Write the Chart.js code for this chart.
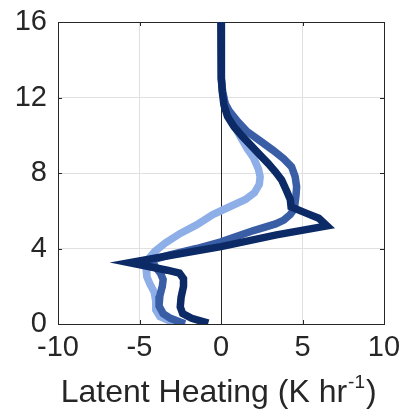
<!DOCTYPE html>
<html><head><meta charset="utf-8">
<script src="https://cdn.jsdelivr.net/npm/chart.js@4"></script>
<style>html,body{margin:0;padding:0;background:#fff}#wrap{width:400px;height:410px}</style>
</head><body><div id="wrap"><canvas id="c" width="400" height="410"></canvas></div>
<script>
// ---- data ----
const xTicks = [-10, -5, 0, 5, 10];
const yTicks = [0, 4, 8, 12, 16];

const lightX = [0.0, 0.0, 0.03, 0.1, 0.3, 0.7, 1.2, 1.6, 2.0, 2.3, 2.4, 2.35, 2.05, 1.5, 0.5, -0.5, -1.5, -2.5, -3.4, -4.05, -4.45, -4.6, -4.55, -4.35, -4.1, -4.0, -4.0, -3.75, -3.2, -2.4];
const lightY = [16, 14, 13, 12.3, 11.5, 10.7, 9.9, 9.3, 8.8, 8.2, 7.8, 7.4, 6.95, 6.6, 6.2, 5.8, 5.25, 4.8, 4.3, 3.85, 3.45, 3.0, 2.5, 2.1, 1.7, 1.2, 0.75, 0.4, 0.18, 0.05];

const mediumX = [0.0, 0.0, 0.02, 0.05, 0.1, 0.25, 0.5, 1.0, 1.6, 2.4, 3.2, 3.85, 4.33, 4.55, 4.64, 4.6, 4.5, 4.25, 3.85, 3.35, 2.0, 0.0, -1.5, -3.2, -4.25, -4.0, -3.72, -3.55, -3.6, -3.75, -3.8, -3.55, -3.1, -2.45];
const mediumY = [16, 15, 14, 13, 12.3, 11.7, 11.3, 10.75, 10.2, 9.7, 9.2, 8.75, 8.33, 7.8, 7.27, 6.8, 6.1, 5.8, 5.5, 5.3, 4.95, 4.35, 4.0, 3.65, 3.38, 3.0, 2.7, 2.35, 2.0, 1.5, 0.95, 0.55, 0.3, 0.08];

const darkX = [0.0, 0.0, 0.02, 0.04, 0.08, 0.18, 0.4, 0.8, 1.3, 1.85, 2.4, 2.9, 3.35, 3.72, 4.0, 4.25, 4.3, 5.26, 6.0, 6.5, 3.4, 0.0, -2.8, -5.6, -3.3, -2.55, -2.3, -2.3, -2.45, -2.5, -2.35, -1.8, -1.0];
const darkY = [16, 15, 14, 13, 12.3, 11.6, 11.0, 10.45, 9.95, 9.45, 8.95, 8.5, 8.05, 7.63, 7.1, 6.6, 6.2, 5.86, 5.6, 5.2, 4.72, 4.1, 3.68, 3.25, 2.85, 2.7, 2.4, 2.0, 1.4, 0.9, 0.55, 0.3, 0.1];

const titleMain = 'Latent Heating (K hr';
const titleSup = '-1';
const titleEnd = ')';

// ---- styling ----
const FONT = '"Liberation Sans", Arial, Helvetica, sans-serif';
const TEXT = '#262626';
const zip = (xs, ys) => xs.map((x, i) => ({x, y: ys[i]}));

const boxPlugin = {
  id: 'box',
  beforeDatasetsDraw(chart) {
    const {ctx, chartArea: a, scales: {x, y}} = chart;
    ctx.save();
    ctx.strokeStyle = TEXT;
    ctx.lineWidth = 1;
    const r = v => Math.round(v) + 0.5;
    const x0 = r(x.getPixelForValue(0));
    ctx.beginPath(); ctx.moveTo(x0, a.top); ctx.lineTo(x0, a.bottom); ctx.stroke();
    ctx.beginPath();
    ctx.moveTo(r(a.left), r(a.top)); ctx.lineTo(r(a.right), r(a.top)); ctx.lineTo(r(a.right), r(a.bottom));
    ctx.stroke();
    const L = 4;
    ctx.beginPath();
    xTicks.forEach(v => {
      const px = r(x.getPixelForValue(v));
      ctx.moveTo(px, a.bottom); ctx.lineTo(px, a.bottom - L);
      ctx.moveTo(px, a.top); ctx.lineTo(px, a.top + L);
    });
    yTicks.forEach(v => {
      const py = r(y.getPixelForValue(v));
      ctx.moveTo(a.left, py); ctx.lineTo(a.left + L, py);
      ctx.moveTo(a.right, py); ctx.lineTo(a.right - L, py);
    });
    ctx.stroke();
    ctx.restore();
  },
  afterDraw(chart) {
    const {ctx} = chart;
    ctx.save();
    ctx.fillStyle = TEXT;
    ctx.textBaseline = 'alphabetic';
    ctx.textAlign = 'left';
    const big = '32px ' + FONT, small = '19px ' + FONT;
    ctx.font = big; const w1 = ctx.measureText(titleMain).width; const w3 = ctx.measureText(titleEnd).width;
    ctx.font = small; const w2 = ctx.measureText(titleSup).width;
    const total = w1 + w2 + 2 + w3;
    const cx = 218.7, base = 401.5;
    let x0 = cx - total / 2;
    ctx.font = big; ctx.fillText(titleMain, x0, base);
    ctx.font = small; ctx.fillText(titleSup, x0 + w1 + 1, base - 14);
    ctx.font = big; ctx.fillText(titleEnd, x0 + w1 + w2 + 2, base);
    ctx.restore();
  }
};

new Chart(document.getElementById('c'), {
  type: 'scatter',
  data: {
    datasets: [
      {label: 'dark', data: zip(darkX, darkY), borderColor: '#0c2a66', order: 0},
      {label: 'medium', data: zip(mediumX, mediumY), borderColor: '#3a5ea6', order: 1},
      {label: 'light', data: zip(lightX, lightY), borderColor: '#8eaee8', order: 2}
    ].map(d => Object.assign(d, {
      showLine: true, pointRadius: 0, pointHoverRadius: 0, borderWidth: 7.5,
      borderCapStyle: 'square', borderJoinStyle: 'miter', tension: 0, fill: false
    }))
  },
  options: {
    responsive: false, animation: false, devicePixelRatio: 1,
    layout: {padding: {top: 22, right: 16, left: 0, bottom: 0}},
    plugins: {legend: {display: false}, tooltip: {enabled: false}},
    scales: {
      x: {
        type: 'linear', min: -10, max: 10,
        afterBuildTicks: s => { s.ticks = xTicks.map(v => ({value: v})); },
        afterFit: s => { s.height = 86; s.paddingLeft = 0; s.paddingRight = 0; },
        ticks: {font: {size: 29, family: FONT}, color: TEXT, padding: 7, maxRotation: 0},
        grid: {color: '#e0e0e0', lineWidth: 1, drawTicks: false},
        border: {display: true, color: TEXT, width: 1}
      },
      y: {
        type: 'linear', min: 0, max: 16,
        afterBuildTicks: s => { s.ticks = yTicks.map(v => ({value: v})); },
        afterFit: s => { s.width = 58; s.paddingTop = 0; s.paddingBottom = 0; },
        ticks: {font: {size: 29, family: FONT}, color: TEXT, padding: 11},
        grid: {color: '#e0e0e0', lineWidth: 1, drawTicks: false},
        border: {display: true, color: TEXT, width: 1}
      }
    }
  },
  plugins: [boxPlugin]
});
</script></body></html>
